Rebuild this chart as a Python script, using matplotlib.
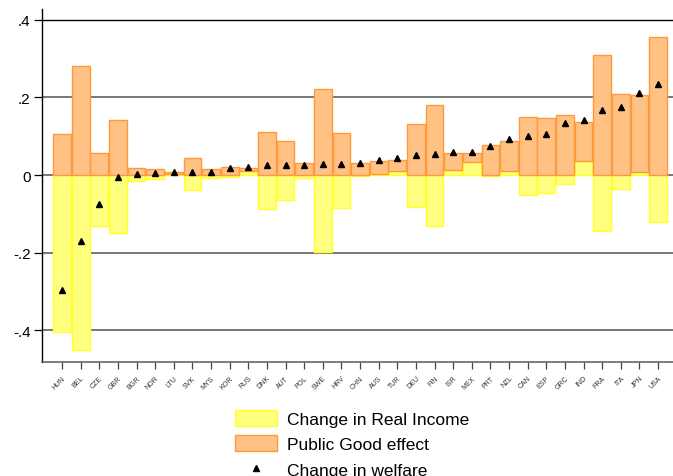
import numpy as np
import matplotlib
matplotlib.use("Agg")
import matplotlib.pyplot as plt
from matplotlib.lines import Line2D
from matplotlib.patches import Patch

countries = ["HUN", "BEL", "CZE", "GBR", "BGR", "NOR", "LTU", "SVK", "MYS", "KOR",
             "RUS", "DNK", "AUT", "POL", "SWE", "HRV", "CHN", "AUS", "TUR", "DEU",
             "FIN", "ISR", "MEX", "PRT", "NZL", "CAN", "ESP", "GRC", "IND", "FRA",
             "ITA", "JPN", "USA"]
real_income = [-0.405, -0.451, -0.132, -0.150, -0.015, -0.010, 0.004, -0.038, -0.008, -0.006,
               0.011, -0.088, -0.065, -0.007, -0.197, -0.085, -0.003, 0.002, 0.011, -0.083,
               -0.130, 0.014, 0.033, -0.003, 0.010, -0.052, -0.045, -0.023, 0.037, -0.144,
               -0.037, 0.007, -0.122]
public_good = [0.107, 0.280, 0.056, 0.143, 0.017, 0.015, 0.004, 0.044, 0.016, 0.022,
               0.006, 0.110, 0.088, 0.030, 0.221, 0.109, 0.030, 0.034, 0.029, 0.131,
               0.181, 0.042, 0.023, 0.077, 0.079, 0.149, 0.148, 0.154, 0.101, 0.310,
               0.210, 0.200, 0.356]
welfare = [-0.296, -0.169, -0.074, -0.006, 0.003, 0.005, 0.008, 0.008, 0.009, 0.019,
           0.021, 0.025, 0.026, 0.026, 0.028, 0.028, 0.030, 0.039, 0.043, 0.051,
           0.055, 0.059, 0.059, 0.076, 0.093, 0.100, 0.106, 0.133, 0.143, 0.167,
           0.175, 0.211, 0.236]
yticks = [-0.4, -0.2, 0, 0.2, 0.4]
ytick_labels = ["-.4", "-.2", "0", ".2", ".4"]

YEL_FILL, YEL_EDGE = "#FFFF80", "#FFFF2A"
ORA_FILL, ORA_EDGE = "#FFC184", "#FF9A3C"

plt.rcParams["font.family"] = ["Liberation Sans", "DejaVu Sans"]

fig = plt.figure(figsize=(6.73, 4.77), dpi=100)
ax = fig.add_axes([0.062, 0.2396, 0.938, 0.7394])

x = np.arange(len(countries))
ri = np.array(real_income)
pg = np.array(public_good)
base = np.maximum(ri, 0)

# gridlines first
for yv in yticks:
    if yv == 0.4:
        ax.axhline(yv, color="black", lw=1.0, zorder=0)
    else:
        ax.axhline(yv, color="#777777", lw=1.4, zorder=0)

ax.bar(x, ri, width=0.95, color=YEL_FILL, edgecolor=YEL_EDGE, linewidth=1.0, zorder=2)
ax.bar(x, pg, bottom=base, width=0.95, color=ORA_FILL, edgecolor=ORA_EDGE, linewidth=1.0, zorder=3)
ax.plot(x, welfare, linestyle="none", marker="^", color="black", markersize=4.5, zorder=4)

ax.set_xlim(-1.09, 32.8)
ax.set_ylim(-0.481, 0.428)
ax.set_yticks(yticks)
ax.set_yticklabels(ytick_labels, fontsize=11)
ax.set_xticks(x)
ax.set_xticklabels(countries, rotation=45, ha="right", rotation_mode="anchor",
                   fontsize=5, color="#333333")
ax.tick_params(axis="y", length=6, width=0.9, pad=2, direction="out")
ax.tick_params(axis="x", length=5, width=0.9, pad=4, color="#444444")
for s in ["top", "right"]:
    ax.spines[s].set_visible(False)
ax.spines["left"].set_color("black")
ax.spines["left"].set_linewidth(1.0)
ax.spines["bottom"].set_color("#666666")
ax.spines["bottom"].set_linewidth(1.2)

handles = [
    Patch(facecolor=YEL_FILL, edgecolor=YEL_EDGE, linewidth=1.0, label="Change in Real Income"),
    Patch(facecolor=ORA_FILL, edgecolor=ORA_EDGE, linewidth=1.0, label="Public Good effect"),
    Line2D([], [], linestyle="none", marker="^", color="black", markersize=4.5,
           label="Change in welfare"),
]
fig.legend(handles=handles, loc="upper left", bbox_to_anchor=(235 / 673, 1 - 411 / 477),
           frameon=False, fontsize=12.5, handlelength=2.4, handleheight=1.0,
           handletextpad=0.6, labelspacing=0.5, borderpad=0, borderaxespad=0)

fig.savefig("out.png", dpi=100)
